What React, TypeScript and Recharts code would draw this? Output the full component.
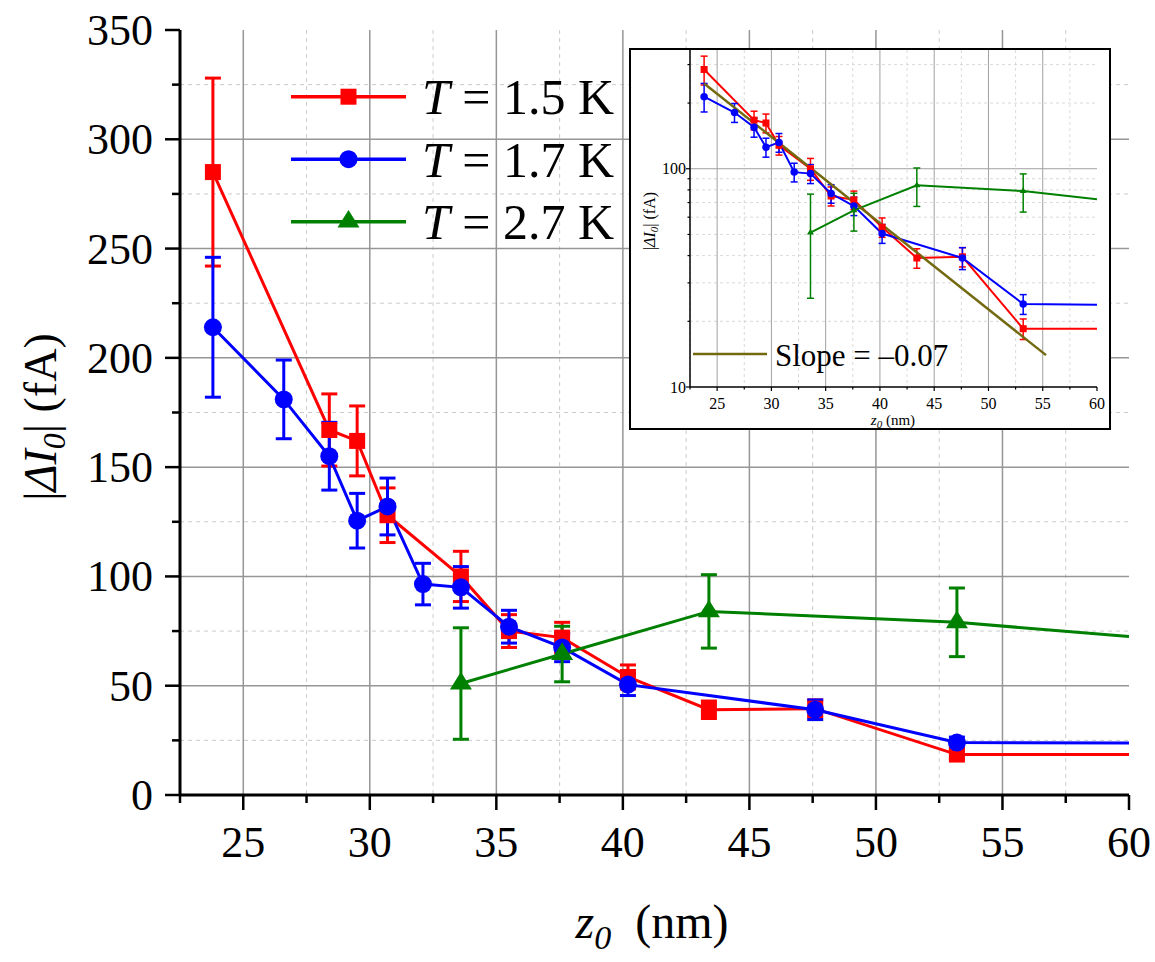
import React from 'react';
import { LineChart, Line, XAxis, YAxis, CartesianGrid, ErrorBar } from 'recharts';

const SERIF = '"Liberation Serif", "Times New Roman", Times, serif';
const RED = '#ff0000';
const BLUE = '#0000ff';
const GREEN = '#008000';
const OLIVE = '#736a10';

// ---------- data ----------
const xEnd = 60;

const redX = [23.8, 28.4, 29.5, 30.7, 33.6, 35.5, 37.6, 40.2, 43.4, 47.6, 53.2];
const redY = [285, 167, 162, 128, 100, 75, 72, 54, 39, 39.5, 18.5];
const redErr = [43, 16.5, 16, 12.5, 11.5, 7.5, 7, 5.5, 4, 4, 2];
const redEndY = 18.5;

const blueX = [23.8, 26.6, 28.4, 29.5, 30.7, 32.1, 33.6, 35.5, 37.6, 40.2, 47.6, 53.2];
const blueY = [214, 181, 155, 125.5, 132, 96.5, 95, 77, 67.5, 50.5, 39, 24];
const blueErr = [32, 18, 15.5, 12.5, 13, 9.5, 9.5, 7.5, 6.5, 5, 4.5, 2.5];
const blueEndY = 23.8;

const greenX = [33.6, 37.6, 43.4, 53.2];
const greenY = [51, 64.5, 84, 79];
const greenErr = [25.5, 12.7, 16.8, 15.7];
const greenEndY = 72.5;

const fitX = [23.8, 55.3];
const fitY = [246, 14];

const legendLabels = ['1.5 K', '1.7 K', '2.7 K'];
const fitLabel = 'Slope = \u20130.07';

// ---------- axes ----------
const xDomain = [22.5, 60];
const yDomain = [0, 350];
const insetYDomain = [10, 350];

const xMajorTicks = [25, 30, 35, 40, 45, 50, 55, 60];
const xMinorTicks = [22.5, 27.5, 32.5, 37.5, 42.5, 47.5, 52.5, 57.5];
const yMajorTicks = [0, 50, 100, 150, 200, 250, 300, 350];
const yMinorTicks = [25, 75, 125, 175, 225, 275, 325];
const insetYMajorTicks = [10, 100];
const insetYMinorTicks = [20, 30, 40, 50, 60, 70, 80, 90, 200, 300];

const xGridMajor = [25, 30, 35, 40, 45, 50, 55];
const yGridMajor = [50, 100, 150, 200, 250, 300];
const insetYGridMajor = [100];

const xAllTicks = [...xMajorTicks, ...xMinorTicks].sort((a, b) => a - b);
const yAllTicks = [...yMajorTicks, ...yMinorTicks].sort((a, b) => a - b);
const insetYAllTicks = [...insetYMajorTicks, ...insetYMinorTicks].sort((a, b) => a - b);

function buildRows(xs: number[], ys: number[], errs: number[], endY: number) {
  const rows: any[] = xs.map((x, i) => ({ x, y: ys[i], err: errs[i], mark: true }));
  rows.push({ x: xEnd, y: endY, err: 0, mark: false });
  return rows;
}

const redData = buildRows(redX, redY, redErr, redEndY);
const blueData = buildRows(blueX, blueY, blueErr, blueEndY);
const greenData = buildRows(greenX, greenY, greenErr, greenEndY);
const fitData = fitX.map((x, i) => ({ x, y: fitY[i] }));

// ---------- markers ----------
type Shape = 'square' | 'circle' | 'triangle';

function markerEl(shape: Shape, cx: number, cy: number, size: number, color: string, key?: string) {
  if (shape === 'square') {
    return <rect key={key} x={cx - size / 2} y={cy - size / 2} width={size} height={size} fill={color} />;
  }
  if (shape === 'circle') {
    return <circle key={key} cx={cx} cy={cy} r={size / 2} fill={color} />;
  }
  const h = size * 0.8;
  const pts = `${cx},${cy - (2 * h) / 3} ${cx - size / 2},${cy + h / 3} ${cx + size / 2},${cy + h / 3}`;
  return <polygon key={key} points={pts} fill={color} />;
}

function makeDot(shape: Shape, color: string, size: number) {
  return (props: any) => {
    const { cx, cy, payload, index } = props;
    if (!payload || !payload.mark || cx == null || cy == null) return <g key={`e-${index}`} />;
    return markerEl(shape, cx, cy, size, color, `m-${index}`);
  };
}

// ---------- ticks ----------
const MainXTick = (props: any) => {
  const { x, y, payload } = props;
  const v = payload.value;
  const major = xMajorTicks.includes(v);
  return (
    <g>
      <line x1={x} x2={x} y1={y} y2={y + (major ? 15 : 8)} stroke="#000" strokeWidth={2.5} />
      {major && (
        <text x={x} y={y + 62} textAnchor="middle" fontFamily={SERIF} fontSize={44} fill="#000">
          {v}
        </text>
      )}
    </g>
  );
};

const TopXTick = (props: any) => {
  const { x, y, payload } = props;
  const major = xMajorTicks.includes(payload.value);
  return <line x1={x} x2={x} y1={y} y2={y + (major ? 16 : 8)} stroke="#000" strokeWidth={2.5} />;
};

const MainYTick = (props: any) => {
  const { x, y, payload } = props;
  const v = payload.value;
  const major = yMajorTicks.includes(v);
  return (
    <g>
      <line x1={x - (major ? 15 : 8)} x2={x} y1={y} y2={y} stroke="#000" strokeWidth={2.5} />
      {major && (
        <text x={x - 27} y={y + 15} textAnchor="end" fontFamily={SERIF} fontSize={44} fill="#000">
          {v}
        </text>
      )}
    </g>
  );
};

const RightYTick = (props: any) => {
  const { x, y, payload } = props;
  const major = yMajorTicks.includes(payload.value);
  return <line x1={x - (major ? 15 : 8)} x2={x} y1={y} y2={y} stroke="#000" strokeWidth={2.5} />;
};

const InsetXTick = (props: any) => {
  const { x, y, payload } = props;
  const v = payload.value;
  const major = xMajorTicks.includes(v);
  return (
    <g>
      <line x1={x} x2={x} y1={y} y2={y + (major ? 4 : 2.5)} stroke="#000" strokeWidth={1.2} />
      {major && (
        <text x={x} y={y + 22} textAnchor="middle" fontFamily={SERIF} fontSize={16} fill="#000">
          {v}
        </text>
      )}
    </g>
  );
};

const InsetYTick = (props: any) => {
  const { x, y, payload } = props;
  const v = payload.value;
  const major = insetYMajorTicks.includes(v);
  return (
    <g>
      <line x1={x - (major ? 4 : 2.5)} x2={x} y1={y} y2={y} stroke="#000" strokeWidth={1.2} />
      {major && (
        <text x={x - 4} y={y + 5.5} textAnchor="end" fontFamily={SERIF} fontSize={16} fill="#000">
          {v}
        </text>
      )}
    </g>
  );
};

const legendShapes: Shape[] = ['square', 'circle', 'triangle'];
const legendColors = [RED, BLUE, GREEN];
const legendSizes = [16, 18, 22];

export default function App() {
  return (
    <div style={{ position: 'absolute', left: 0, top: 0, width: 1155, height: 962, background: '#fff' }}>
      <LineChart width={1155} height={962} margin={{ top: 30, right: 26, bottom: 0, left: 0 }}>
        <CartesianGrid
          xAxisId="x"
          yAxisId="y"
          verticalValues={xMinorTicks}
          horizontalValues={yMinorTicks}
          stroke="#cccccc"
          strokeWidth={1}
          strokeDasharray="4 4"
        />
        <CartesianGrid
          xAxisId="x"
          yAxisId="y"
          verticalValues={xGridMajor}
          horizontalValues={yGridMajor}
          stroke="#969696"
          strokeWidth={1.5}
        />
        <XAxis
          xAxisId="x"
          type="number"
          dataKey="x"
          domain={xDomain}
          allowDataOverflow
          ticks={xAllTicks}
          interval={0}
          tick={MainXTick}
          tickLine={false}
          tickSize={0}
          tickMargin={0}
          axisLine={{ stroke: '#000', strokeWidth: 3 }}
          height={167}
        />
        <XAxis
          xAxisId="top"
          orientation="top"
          type="number"
          dataKey="x"
          domain={xDomain}
          allowDataOverflow
          ticks={xAllTicks}
          interval={0}
          tick={TopXTick}
          tickLine={false}
          tickSize={0}
          tickMargin={0}
          axisLine={{ stroke: '#000', strokeWidth: 3 }}
          height={0}
        />
        <YAxis
          yAxisId="y"
          type="number"
          domain={yDomain}
          allowDataOverflow
          ticks={yAllTicks}
          interval={0}
          tick={MainYTick}
          tickLine={false}
          tickSize={0}
          tickMargin={0}
          axisLine={{ stroke: '#000', strokeWidth: 3 }}
          width={180}
        />
        <YAxis
          yAxisId="right"
          orientation="right"
          type="number"
          domain={yDomain}
          allowDataOverflow
          ticks={yAllTicks}
          interval={0}
          tick={RightYTick}
          tickLine={false}
          tickSize={0}
          tickMargin={0}
          axisLine={{ stroke: '#000', strokeWidth: 3 }}
          width={0}
        />
        <Line
          xAxisId="x"
          yAxisId="y"
          data={redData}
          dataKey="y"
          type="linear"
          stroke={RED}
          strokeWidth={3}
          dot={makeDot('square', RED, 16)}
          activeDot={false}
          isAnimationActive={false}
        >
          <ErrorBar dataKey="err" direction="y" width={8} stroke={RED} strokeWidth={3} />
        </Line>
        <Line
          xAxisId="x"
          yAxisId="y"
          data={blueData}
          dataKey="y"
          type="linear"
          stroke={BLUE}
          strokeWidth={3}
          dot={makeDot('circle', BLUE, 18)}
          activeDot={false}
          isAnimationActive={false}
        >
          <ErrorBar dataKey="err" direction="y" width={8} stroke={BLUE} strokeWidth={3} />
        </Line>
        <Line
          xAxisId="x"
          yAxisId="y"
          data={greenData}
          dataKey="y"
          type="linear"
          stroke={GREEN}
          strokeWidth={3}
          dot={makeDot('triangle', GREEN, 22)}
          activeDot={false}
          isAnimationActive={false}
        >
          <ErrorBar dataKey="err" direction="y" width={8} stroke={GREEN} strokeWidth={3} />
        </Line>
      </LineChart>

      {/* inset */}
      <div
        style={{
          position: 'absolute',
          left: 629,
          top: 48,
          width: 482,
          height: 382,
          border: '2px solid #000',
          background: '#fff',
          boxSizing: 'border-box',
        }}
      >
        <LineChart width={478} height={378} margin={{ top: 0, right: 12, bottom: 0, left: 0 }}>
          <CartesianGrid
            xAxisId="ix"
            yAxisId="iy"
            verticalValues={xMinorTicks}
            horizontalValues={insetYMinorTicks}
            stroke="#d0d0d0"
            strokeWidth={0.8}
            strokeDasharray="3 3"
          />
          <CartesianGrid
            xAxisId="ix"
            yAxisId="iy"
            verticalValues={xGridMajor}
            horizontalValues={insetYGridMajor}
            stroke="#a0a0a0"
            strokeWidth={1}
          />
          <XAxis
            xAxisId="ix"
            type="number"
            dataKey="x"
            domain={xDomain}
            allowDataOverflow
            ticks={xAllTicks}
            interval={0}
            tick={InsetXTick}
            tickLine={false}
            tickSize={0}
            tickMargin={0}
            axisLine={{ stroke: '#000', strokeWidth: 1.5 }}
            height={41}
          />
          <YAxis
            yAxisId="iy"
            type="number"
            scale="log"
            domain={insetYDomain}
            allowDataOverflow
            ticks={insetYAllTicks}
            interval={0}
            tick={InsetYTick}
            tickLine={false}
            tickSize={0}
            tickMargin={0}
            axisLine={{ stroke: '#000', strokeWidth: 1.5 }}
            width={59}
          />
          <YAxis
            yAxisId="iyr"
            orientation="right"
            type="number"
            scale="log"
            domain={insetYDomain}
            allowDataOverflow
            tick={false}
            tickLine={false}
            axisLine={{ stroke: '#000', strokeWidth: 1.5 }}
            width={0}
          />
          <Line
            xAxisId="ix"
            yAxisId="iy"
            data={redData}
            dataKey="y"
            type="linear"
            stroke={RED}
            strokeWidth={2}
            dot={makeDot('square', RED, 7)}
            activeDot={false}
            isAnimationActive={false}
          >
            <ErrorBar dataKey="err" direction="y" width={3.5} stroke={RED} strokeWidth={1.5} />
          </Line>
          <Line
            xAxisId="ix"
            yAxisId="iy"
            data={blueData}
            dataKey="y"
            type="linear"
            stroke={BLUE}
            strokeWidth={2}
            dot={makeDot('circle', BLUE, 7.5)}
            activeDot={false}
            isAnimationActive={false}
          >
            <ErrorBar dataKey="err" direction="y" width={3.5} stroke={BLUE} strokeWidth={1.5} />
          </Line>
          <Line
            xAxisId="ix"
            yAxisId="iy"
            data={greenData}
            dataKey="y"
            type="linear"
            stroke={GREEN}
            strokeWidth={2}
            dot={makeDot('triangle', GREEN, 7)}
            activeDot={false}
            isAnimationActive={false}
          >
            <ErrorBar dataKey="err" direction="y" width={3.5} stroke={GREEN} strokeWidth={1.5} />
          </Line>
          <Line
            xAxisId="ix"
            yAxisId="iy"
            data={fitData}
            dataKey="y"
            type="linear"
            stroke={OLIVE}
            strokeWidth={2.5}
            dot={false}
            activeDot={false}
            isAnimationActive={false}
          />
        </LineChart>
      </div>

      {/* overlay text: legend and axis titles */}
      <svg
        width={1155}
        height={962}
        style={{ position: 'absolute', left: 0, top: 0, pointerEvents: 'none' }}
      >
        {legendLabels.map((lab, i) => {
          const cy = 96.7 + i * 62.5;
          return (
            <g key={lab}>
              <line x1={291} x2={406} y1={cy} y2={cy} stroke={legendColors[i]} strokeWidth={3.5} />
              {markerEl(legendShapes[i], 348.5, cy, legendSizes[i], legendColors[i])}
              <text x={422} y={cy + 17.5} fontFamily={SERIF} fontSize={50} fill="#000" style={{ whiteSpace: 'pre' }}>
                <tspan fontStyle="italic">T</tspan>
                <tspan>{' = ' + lab}</tspan>
              </text>
            </g>
          );
        })}

        {/* main y title */}
        <text
          transform="translate(56,417) rotate(-90)"
          textAnchor="middle"
          fontFamily={SERIF}
          fontSize={46}
          fill="#000"
          style={{ whiteSpace: 'pre' }}
        >
          <tspan>|</tspan>
          <tspan fontStyle="italic">ΔI</tspan>
          <tspan fontStyle="italic" fontSize={32} dy={9}>0</tspan>
          <tspan dy={-9}>| (fA)</tspan>
        </text>

        {/* main x title */}
        <text x={652} y={938} textAnchor="middle" fontFamily={SERIF} fontSize={48} fill="#000" style={{ whiteSpace: 'pre' }}>
          <tspan fontStyle="italic">z</tspan>
          <tspan fontStyle="italic" fontSize={34} dy={11}>0</tspan>
          <tspan dy={-11}>{'  (nm)'}</tspan>
        </text>

        {/* inset y title */}
        <text
          transform="translate(655,221) rotate(-90)"
          textAnchor="middle"
          fontFamily={SERIF}
          fontSize={16}
          fill="#000"
          style={{ whiteSpace: 'pre' }}
        >
          <tspan>|</tspan>
          <tspan fontStyle="italic">ΔI</tspan>
          <tspan fontStyle="italic" fontSize={11} dy={3}>0</tspan>
          <tspan dy={-3}>| (fA)</tspan>
        </text>

        {/* inset x title */}
        <text x={893} y={425} textAnchor="middle" fontFamily={SERIF} fontSize={15} fill="#000" style={{ whiteSpace: 'pre' }}>
          <tspan fontStyle="italic">z</tspan>
          <tspan fontStyle="italic" fontSize={11} dy={3}>0</tspan>
          <tspan dy={-3}>{' (nm)'}</tspan>
        </text>

        {/* inset legend */}
        <line x1={693} x2={767} y1={354} y2={354} stroke={OLIVE} strokeWidth={2.5} />
        <text x={775} y={366} fontFamily={SERIF} fontSize={31} fill="#000" style={{ whiteSpace: 'pre' }}>
          {fitLabel}
        </text>
      </svg>
    </div>
  );
}
